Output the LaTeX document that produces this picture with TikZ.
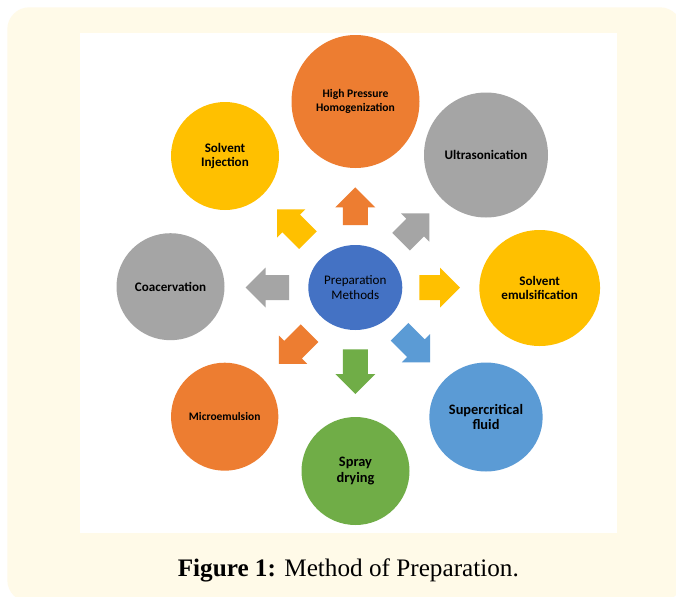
\documentclass[tikz,border=0pt]{standalone}
\usepackage{fontspec}
\setmainfont{Liberation Serif}
\newfontfamily\calfont{Carlito}
\usetikzlibrary{shapes.geometric}
\definecolor{cream}{HTML}{FFFAE8}
\definecolor{morange}{HTML}{ED7D31}
\definecolor{mgray}{HTML}{A5A5A5}
\definecolor{myellow}{HTML}{FFC000}
\definecolor{mblue}{HTML}{4472C4}
\definecolor{mlblue}{HTML}{5B9BD5}
\definecolor{mgreen}{HTML}{70AD47}
% angle, start radius, tip radius, colour
\newcommand\blockarr[4]{%
  \begin{scope}[shift={(cen.center)}, rotate=#1]
    \fill[#4] (#2,-12.5) -- ({#3-20},-12.5) -- ({#3-20},-20) -- (#3,0)
      -- ({#3-20},20) -- ({#3-20},12.5) -- (#2,12.5) -- cycle;
  \end{scope}}
\tikzset{
  meth/.style={ellipse, inner sep=0pt, align=center, text=black},
  fa/.style={font=\calfont\bfseries\fontsize{9.8}{11.2}\selectfont},
}
\begin{document}
\begin{tikzpicture}[x=0.75pt,y=-0.75pt]
\useasboundingbox (0,0) rectangle (676,597);
\fill[white] (0,0) rectangle (676,597);
\fill[cream, rounded corners=16.5pt] (7.3,7.3) rectangle (682,602);
\fill[white] (80,33.3) rectangle (617,532.7);

\node[meth, fill=mblue, minimum width=70.5pt, minimum height=63.75pt,
  font=\calfont\fontsize{9.8}{10.8}\selectfont] (cen) at (355.3,287.5) {Preparation\\Methods};

\node[meth, fill=morange, minimum width=96pt, minimum height=99.75pt,
  font=\calfont\bfseries\fontsize{8.7}{10}\selectfont] (hph) at (355.5,101.5) {High Pressure\\Homogenization};
\node[meth, fa, fill=myellow, minimum width=81pt, minimum height=81pt] (si) at (225,156) {Solvent\\Injection};
\node[meth, fa, fill=mgray, minimum width=93pt, minimum height=93.75pt] (us) at (486,155) {Ultrasonication};
\node[meth, fa, fill=mgray, minimum width=81pt, minimum height=80.25pt] (coa) at (170.5,286.7) {Coacervation};
\node[meth, fill=myellow, minimum width=90.5pt, minimum height=87pt,
  font=\calfont\bfseries\fontsize{9.8}{10.8}\selectfont] (se) at (539.7,288) {Solvent\\emulsification};
\node[meth, fill=morange, minimum width=80.5pt, minimum height=81pt,
  font=\calfont\bfseries\fontsize{8.6}{10}\selectfont] (me) at (224.7,416.7) {Microemulsion};
\node[meth, fill=mgreen, minimum width=81pt, minimum height=81pt,
  font=\calfont\bfseries\fontsize{10.8}{11.7}\selectfont] (sd) at (355.5,471) {Spray\\drying};
\node[meth, fill=mlblue, minimum width=85pt, minimum height=81.75pt,
  font=\calfont\bfseries\fontsize{10.8}{11.7}\selectfont] (scf) at (486,417) {Supercritical\\fluid};

\blockarr{90}{62.5}{100.2}{morange}
\blockarr{45}{64.8}{104.8}{mgray}
\blockarr{0}{64}{104.7}{myellow}
\blockarr{315}{62.6}{105.8}{mlblue}
\blockarr{270}{61.8}{106.5}{mgreen}
\blockarr{225}{64.6}{108}{morange}
\blockarr{180}{66.3}{109.6}{mgray}
\blockarr{135}{67}{110.6}{myellow}

\node[anchor=base, font=\fontsize{18.9}{22}\selectfont] (cap) at (348.3,576.7)
  {\textbf{Figure 1:} Method of Preparation.};
\end{tikzpicture}
\end{document}
